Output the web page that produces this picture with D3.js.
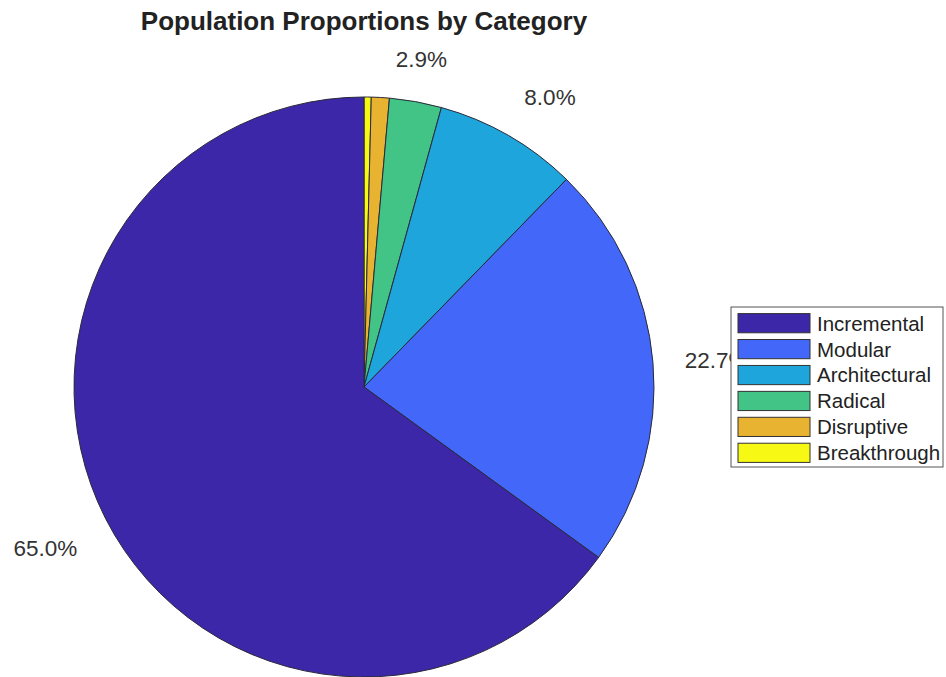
<!DOCTYPE html>
<html>
<head>
<meta charset="utf-8">
<script src="https://cdn.jsdelivr.net/npm/d3@7/dist/d3.min.js"></script>
<style>
  html, body { margin: 0; padding: 0; background: #ffffff; }
  svg { display: block; }
</style>
</head>
<body>
<svg id="chart" width="946" height="677"></svg>
<script>
// Category shares (percent), ordered clockwise from 12 o'clock
const categories = ["Breakthrough", "Disruptive", "Radical", "Architectural", "Modular", "Incremental"];
const shares = [0.4, 1.0, 2.9, 8.0, 22.7, 65.0];
const colors = ["#f7f814", "#e9b332", "#42c487", "#1da5dc", "#4367f9", "#3c27a8"];
// Percentage labels that are printed beside the pie
const shownLabels = ["Radical", "Architectural", "Modular", "Incremental"];
// Legend order
const legendOrder = ["Incremental", "Modular", "Architectural", "Radical", "Disruptive", "Breakthrough"];

const svg = d3.select("#chart");
const cx = 364, cy = 387, R = 290;
const font = "'Liberation Sans', Arial, Helvetica, sans-serif";

const data = categories.map((c, i) => ({ name: c, value: shares[i], color: colors[i] }));

const pie = d3.pie().sort(null).value(d => d.value);
const arcs = pie(data);
const arc = d3.arc().innerRadius(0).outerRadius(R);

const g = svg.append("g").attr("transform", `translate(${cx},${cy})`);

g.selectAll("path.slice")
  .data(arcs)
  .enter().append("path")
  .attr("class", "slice")
  .attr("d", arc)
  .attr("fill", d => d.data.color)
  .attr("stroke", "#2a2a3a")
  .attr("stroke-width", 1);

// Percentage labels just outside the rim along each slice's mid-angle
const fmt = d3.format(".1f");
const labelR = R * 1.11;
g.selectAll("text.pct")
  .data(arcs.filter(d => shownLabels.includes(d.data.name)))
  .enter().append("text")
  .attr("class", "pct")
  .each(function (d) {
    const a = (d.startAngle + d.endAngle) / 2;
    const s = Math.sin(a), c = Math.cos(a);
    const x = labelR * s, y = -labelR * c;
    const anchor = Math.abs(s) < 0.3 ? "middle" : (s > 0 ? "start" : "end");
    let dy = "0.38em";
    if (c > 0.3) dy = "-0.15em";
    else if (c < -0.3) dy = "1.0em";
    d3.select(this)
      .attr("x", x).attr("y", y).attr("dy", dy)
      .attr("text-anchor", anchor);
  })
  .attr("font-family", font)
  .attr("font-size", 22.5)
  .attr("fill", "#333333")
  .text(d => fmt(d.data.value) + "%");

// Title
svg.append("text")
  .attr("x", cx).attr("y", 30)
  .attr("text-anchor", "middle")
  .attr("font-family", font)
  .attr("font-size", 26)
  .attr("font-weight", "bold")
  .attr("fill", "#222222")
  .text("Population Proportions by Category");

// Legend (drawn on top of the pie labels)
const lx = 731, ly = 307, lw = 212, lh = 160;
const legend = svg.append("g").attr("transform", `translate(${lx},${ly})`);
legend.append("rect")
  .attr("width", lw).attr("height", lh)
  .attr("fill", "#ffffff")
  .attr("stroke", "#555555")
  .attr("stroke-width", 1);

const rowY = d3.scaleBand().domain(legendOrder).range([4, lh - 2]).paddingInner(0.26).paddingOuter(0.1);
const colorOf = new Map(data.map(d => [d.name, d.color]));
const rows = legend.selectAll("g.row").data(legendOrder).enter().append("g")
  .attr("class", "row")
  .attr("transform", d => `translate(0,${rowY(d)})`);
rows.append("rect")
  .attr("x", 7).attr("width", 72).attr("height", rowY.bandwidth())
  .attr("fill", d => colorOf.get(d))
  .attr("stroke", "#333333").attr("stroke-width", 1);
rows.append("text")
  .attr("x", 86).attr("y", rowY.bandwidth() / 2).attr("dy", "0.36em")
  .attr("font-family", font)
  .attr("font-size", 20.5)
  .attr("fill", "#222222")
  .text(d => d);
</script>
</body>
</html>
